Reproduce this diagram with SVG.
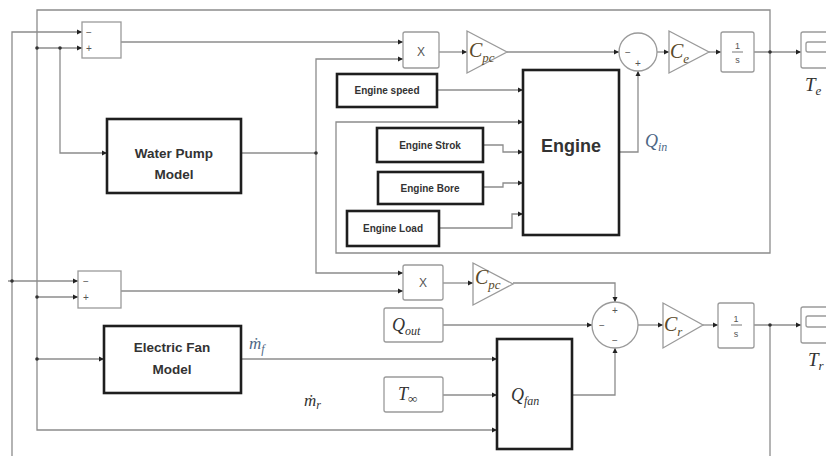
<svg xmlns="http://www.w3.org/2000/svg" width="826" height="456" viewBox="0 0 826 456">
<defs>
<marker id="ar" markerUnits="userSpaceOnUse" markerWidth="6" markerHeight="6" refX="5" refY="3" orient="auto">
<path d="M0,0.5 L5,3 L0,5.5 Z" fill="#222"/>
</marker>
<style>
.w{fill:none;stroke:#8c8c8c;stroke-width:1.3}
.wa{fill:none;stroke:#8c8c8c;stroke-width:1.3;marker-end:url(#ar)}
.lb{fill:#fff;stroke:#9a9a9a;stroke-width:1.3}
.tb{fill:#fff;stroke:#1e1e1e;stroke-width:2.6}
.dot{fill:#333}
.bl{font-family:"Liberation Sans",Arial,sans-serif;font-weight:bold;fill:#333;text-anchor:middle}
.m{font-family:"Liberation Serif","DejaVu Serif",serif;font-style:italic}
.sg{font-family:"Liberation Sans",Arial,sans-serif;font-size:10px;fill:#555;text-anchor:middle}
.gk{fill:#5a4a2a}
.bq{fill:#4e6785}
.dk{fill:#333}
</style>
</defs>
<g id="connectors">
<!-- Te feedback loop -->
<polyline class="wa" points="754,52 801,52"/>
<polyline class="wa" points="770,52 770,10 37,10 37,430 497,430"/>
<polyline class="wa" points="770,52 770,253 336,253 336,122 523,122"/>
<polyline class="wa" points="37,48 82,48"/>
<polyline class="wa" points="12,456 12,32 82,32"/>
<polyline class="wa" points="60,48 60,153 107,153"/>
<polyline class="wa" points="121,42 403,42"/>
<polyline class="w" points="241,153 316,153"/>
<polyline class="wa" points="316,153 316,59 403,59"/>
<polyline class="wa" points="316,153 316,273 403,273"/>
<polyline class="wa" points="439,52 467,52"/>
<polyline class="wa" points="507,52 619,52"/>
<polyline class="wa" points="657,52 669,52"/>
<polyline class="wa" points="709,52 721,52"/>
<!-- engine inputs -->
<polyline class="wa" points="437,90 523,90"/>
<polyline class="wa" points="483,145 503,145 503,152 523,152"/>
<polyline class="wa" points="483,187 503,187 503,183 523,183"/>
<polyline class="wa" points="439,228 512,228 512,214 523,214"/>
<polyline class="wa" points="619,152 638,152 638,71"/>
<!-- bottom -->
<polyline class="wa" points="8,281 78,281"/>
<polyline class="wa" points="37,297 78,297"/>
<polyline class="wa" points="121,291 403,291"/>
<polyline class="wa" points="443,283 473,283"/>
<polyline class="wa" points="513,283 615,283 615,302"/>
<polyline class="wa" points="443,325 592,325"/>
<polyline class="wa" points="572,395 615,395 615,348"/>
<polyline class="wa" points="638,325 663,325"/>
<polyline class="wa" points="703,325 718,325"/>
<polyline class="wa" points="754,325 801,325"/>
<polyline class="w" points="770,325 770,456"/>
<polyline class="wa" points="37,359 104,359"/>
<polyline class="wa" points="241,359 497,359"/>
<polyline class="wa" points="443,395 497,395"/>
<circle class="dot" cx="770" cy="52" r="1.8"/>
<circle class="dot" cx="37" cy="48" r="1.8"/>
<circle class="dot" cx="60" cy="48" r="1.8"/>
<circle class="dot" cx="316" cy="153" r="1.8"/>
<circle class="dot" cx="12" cy="281" r="1.8"/>
<circle class="dot" cx="37" cy="297" r="1.8"/>
<circle class="dot" cx="37" cy="359" r="1.8"/>
<circle class="dot" cx="770" cy="325" r="1.8"/>
</g>
<g id="sub1"><rect class="lb" x="82" y="22" width="39" height="36"/><text class="sg" x="89" y="36">−</text><text class="sg" x="89" y="52">+</text></g>
<g id="mul1"><rect class="lb" x="403" y="32" width="36" height="36" rx="2"/><text class="sg" x="421" y="56" style="font-size:12px">X</text></g>
<g id="cpc1"><polygon class="lb" points="467,31 467,73 507,52"/><text class="m gk" x="469" y="57" font-size="20">C<tspan font-size="13" dy="5">pc</tspan></text></g>
<g id="sum1"><circle class="lb" cx="638" cy="52" r="19"/><text class="sg" x="628" y="56">−</text><text class="sg" x="638" y="67">+</text></g>
<g id="ce"><polygon class="lb" points="669,31 669,73 709,52"/><text class="m gk" x="670" y="58" font-size="20">C<tspan font-size="13" dy="5">e</tspan></text></g>
<g id="int1"><rect class="lb" x="721" y="32" width="33" height="40" rx="2"/><text class="sg" x="737.5" y="49" style="font-size:9px">1</text><line x1="732" y1="52" x2="743" y2="52" stroke="#555" stroke-width="0.8"/><text class="sg" x="737.5" y="63" style="font-size:9px">s</text></g>
<g id="scopeTe"><rect class="lb" x="801" y="32" width="30" height="36" rx="2"/><rect class="lb" x="806" y="42" width="24" height="10" rx="2"/><text class="m dk" x="805" y="91" font-size="19">T<tspan font-size="13" dy="4">e</tspan></text></g>
<g id="waterpump"><rect class="tb" x="107" y="119" width="134" height="74"/><text class="bl" x="174" y="158" font-size="13.5">Water Pump</text><text class="bl" x="174" y="179" font-size="13.5">Model</text></g>
<g id="engine"><rect class="tb" x="523" y="70" width="96" height="165"/><text class="bl" x="571" y="152" font-size="18">Engine</text><text class="m bq" x="645" y="147" font-size="18">Q<tspan font-size="12" dy="4">in</tspan></text></g>
<g id="espeed"><rect class="tb" x="337" y="74" width="100" height="33"/><text class="bl" x="387" y="94" font-size="10">Engine speed</text></g>
<g id="estrok"><rect class="tb" x="377" y="128" width="106" height="34"/><text class="bl" x="430" y="149" font-size="10">Engine Strok</text></g>
<g id="ebore"><rect class="tb" x="378" y="172" width="105" height="32"/><text class="bl" x="430" y="192" font-size="10">Engine Bore</text></g>
<g id="eload"><rect class="tb" x="347" y="211" width="92" height="35"/><text class="bl" x="393" y="232" font-size="10">Engine Load</text></g>
<g id="sub2"><rect class="lb" x="78" y="271" width="43" height="37"/><text class="sg" x="86" y="285">−</text><text class="sg" x="86" y="301">+</text></g>
<g id="mul2"><rect class="lb" x="403" y="265" width="40" height="35" rx="2"/><text class="sg" x="423" y="287" style="font-size:12px">X</text></g>
<g id="cpc2"><polygon class="lb" points="473,263 473,305 513,284"/><text class="m gk" x="475" y="284" font-size="20">C<tspan font-size="13" dy="5">pc</tspan></text></g>
<g id="qout"><rect class="lb" x="384" y="308" width="59" height="34" rx="2"/><text class="m dk" x="392" y="331" font-size="18">Q<tspan font-size="12" dy="4">out</tspan></text></g>
<g id="sum2"><circle class="lb" cx="615" cy="325" r="23"/><text class="sg" x="615" y="314">+</text><text class="sg" x="602" y="329">−</text><text class="sg" x="615" y="344">−</text></g>
<g id="cr"><polygon class="lb" points="663,303 663,348 703,325"/><text class="m gk" x="664" y="331" font-size="20">C<tspan font-size="13" dy="5">r</tspan></text></g>
<g id="int2"><rect class="lb" x="718" y="303" width="36" height="45" rx="2"/><text class="sg" x="736" y="322" style="font-size:9px">1</text><line x1="731" y1="325" x2="742" y2="325" stroke="#555" stroke-width="0.8"/><text class="sg" x="736" y="337" style="font-size:9px">s</text></g>
<g id="scopeTr"><rect class="lb" x="801" y="307" width="30" height="36" rx="2"/><rect class="lb" x="806" y="316" width="24" height="11" rx="2"/><text class="m dk" x="808" y="366" font-size="19">T<tspan font-size="13" dy="4">r</tspan></text></g>
<g id="efan"><rect class="tb" x="104" y="326" width="137" height="67"/><text class="bl" x="172" y="352" font-size="13.5">Electric Fan</text><text class="bl" x="172" y="374" font-size="13.5">Model</text><text class="m bq" x="249" y="349" font-size="17">ṁ<tspan font-size="12" dy="4">f</tspan></text></g>
<g id="mr"><text class="m dk" x="304" y="406" font-size="17">ṁ<tspan font-size="12" dy="3">r</tspan></text></g>
<g id="tinf"><rect class="lb" x="384" y="377" width="59" height="35" rx="2"/><text class="m dk" x="398" y="400" font-size="18">T<tspan font-size="13" dy="3">∞</tspan></text></g>
<g id="qfan"><rect class="tb" x="497" y="339" width="75" height="110"/><text class="m dk" x="511" y="401" font-size="18">Q<tspan font-size="12" dy="4">fan</tspan></text></g>
</svg>
